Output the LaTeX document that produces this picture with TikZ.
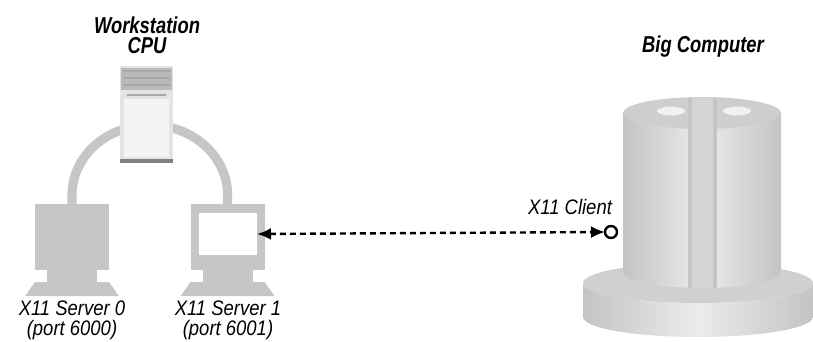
\documentclass[tikz,border=0pt]{standalone}
\usepackage{fontspec}
\usepackage{tikz}
\usetikzlibrary{arrows.meta,calc}
\newfontfamily\lblfont{Liberation Sans}[FakeStretch=0.88]
\newfontfamily\titlefont{Liberation Sans}[FakeStretch=0.8]
\definecolor{termgray}{HTML}{C6C6C6}
\definecolor{towergray}{HTML}{E4E4E4}
\definecolor{stripegray}{HTML}{A8A8A8}
\definecolor{drumdark}{HTML}{C4C4C4}
\definecolor{drumlight}{HTML}{EBEBEB}

\begin{document}
\begin{tikzpicture}[x=0.5pt, y=-0.5pt,
		every node/.style={inner sep=0pt, outer sep=0pt},
		term/.style={rectangle, fill=termgray, minimum width=37pt, minimum height=33pt},
		screen/.style={rectangle, fill=white, minimum width=29pt, minimum height=21pt},
		label/.style={font=\lblfont\fontsize{10.5}{10}\selectfont\itshape, align=center},
		title/.style={font=\titlefont\fontsize{11.5}{10}\selectfont\bfseries\itshape, align=center},
		link/.style={line width=1.2pt, dash pattern=on 3pt off 2pt, {Latex[length=7pt,width=6pt]}-{Latex[length=7pt,width=6pt]}}]
				\useasboundingbox (0,0) rectangle (813,342);
				
				\node[term] (mon0) at (72,237){};
				\node[term] (mon1) at (227.5,237){};
				\node[screen] (scr1) at (228,234){};
				
				% stands under the two terminals
				\foreach \m in {mon0,mon1}{
					\fill[termgray] ($(\m.south)+(-25,0)$) rectangle ($(\m.south)+(25,12)$);
					\fill[termgray] ($(\m.south)+(-37,12)$) -- ($(\m.south)+(37,12)$) -- ($(\m.south)+(47,26)$) -- ($(\m.south)+(-47,26)$) -- cycle;
				}
				
				% cable from one terminal over the cpu to the other
				\draw[termgray, line width=4.6pt] (mon0.north) -- ++(0,-9) arc[start angle=180, end angle=0, x radius=38.9pt, y radius=35pt] -- (mon1.north);
				
				\node[rectangle, fill=towergray, minimum width=26.5pt, minimum height=48.5pt] (cpu) at (146.5,114.5){};
				\fill[stripegray!70!towergray] (121,68) rectangle (172,90);
				\draw[stripegray, line width=1pt] (123,71) -- (170,71) (123,78) -- (170,78) (123,85) -- (170,85);
				\draw[stripegray, line width=0.6pt] (127,95) -- (166,95);
				\fill[white!60!towergray] (124,99) rectangle (169,157);
				\fill[gray] (120,159) rectangle (173,163);
				
				\node[title] (wscpu) at (147,35){Workstation\\CPU};
				\node[label] (srv0) at (72,320){X11 Server 0\\(port 6000)};
				\node[label] (srv1) at (228,320){X11 Server 1\\(port 6001)};
				
				% big computer: base disc and drum
				\shade[left color=drumdark, right color=drumdark, middle color=drumlight] (583,283) -- (583,317) arc[start angle=180, end angle=360, x radius=57.5pt, y radius=10pt] -- (813,283) arc[start angle=0, end angle=-180, x radius=57.5pt, y radius=10pt] -- cycle;
				\fill[drumdark!70!drumlight] (698,283) ellipse[x radius=57.5pt, y radius=10pt];
				\shade[left color=drumdark, right color=drumdark, middle color=drumlight] (623,113) -- (623,272) arc[start angle=180, end angle=360, x radius=39.5pt, y radius=8pt] -- (781,113) -- cycle;
				\fill[drumdark!75!drumlight] (702,113) ellipse[x radius=39.5pt, y radius=8pt];
				\fill[white!30!drumlight] (671,111) ellipse[x radius=7pt, y radius=2.2pt];
				\fill[white!30!drumlight] (737,111) ellipse[x radius=7pt, y radius=2.2pt];
				\fill[drumdark] (688,98) rectangle (717,288);
				\fill[drumdark!55!drumlight] (692,98) rectangle (713,288);
				
				\node[title] (big) at (703,47){Big Computer};
				\node[circle, draw=black, line width=1.2pt, fill=white, minimum size=6pt] (client) at (611,232){};
				\node[label] (clientlbl) at (570,207){X11 Client};
				
				\draw[link] (scr1.east) -- (client.west);
\end{tikzpicture}
\end{document}
